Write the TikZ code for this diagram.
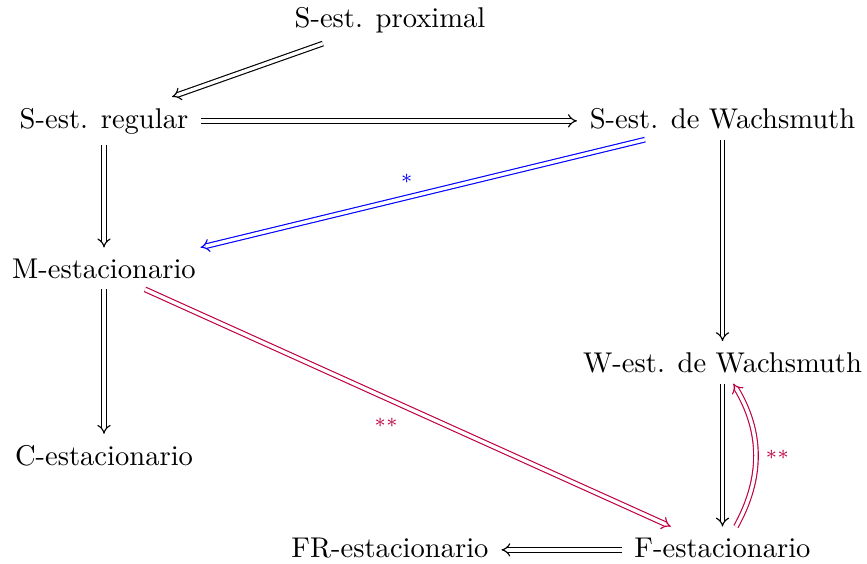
\documentclass[tikz,border=0pt]{standalone}
\usepackage{fontspec}
\usetikzlibrary{arrows.meta,cd}
\definecolor{labpurple}{rgb}{0.75,0,0.25}
\begin{document}
\begin{tikzpicture}[x=0.35pt,y=-0.35pt,
  cell/.style={shape=asymmetrical rectangle, inner xsep=1ex, inner ysep=0.85ex, anchor=base},
  imp/.style={double, double distance=1.2pt, line width=0.4pt, -{Implies}},
  lab/.style={font=\scriptsize, auto, swap, midway}
]
\useasboundingbox (0,0) rectangle (867,563);
\node[cell] (prox) at (390,27) {S-est. proximal};
\node[cell] (reg) at (104,128) {S-est. regular};
\node[cell] (wach) at (722.5,128) {S-est. de Wachsmuth};
\node[cell] (mest) at (104,278) {M-estacionario};
\node[cell] (west) at (722.5,372) {W-est. de Wachsmuth};
\node[cell] (cest) at (104,465) {C-estacionario};
\node[cell] (frest) at (390,557) {FR-estacionario};
\node[cell] (fest) at (722.5,557) {F-estacionario};

\draw[imp] (prox) -- (reg);
\draw[imp] (reg) -- (wach);
\draw[imp] (reg) -- (mest);
\draw[imp, blue] (wach) -- node[lab] {$*$} (mest);
\draw[imp] (mest) -- (cest);
\draw[imp] (wach) -- (west);
\draw[imp, labpurple] (mest) -- node[lab] {$**$} (fest);
\draw[imp] (west) -- (fest);
\draw[imp] (fest) -- (frest);
\draw[imp, labpurple] (fest) to[bend right=30] node[lab] {$**$} (west);
\end{tikzpicture}
\end{document}
